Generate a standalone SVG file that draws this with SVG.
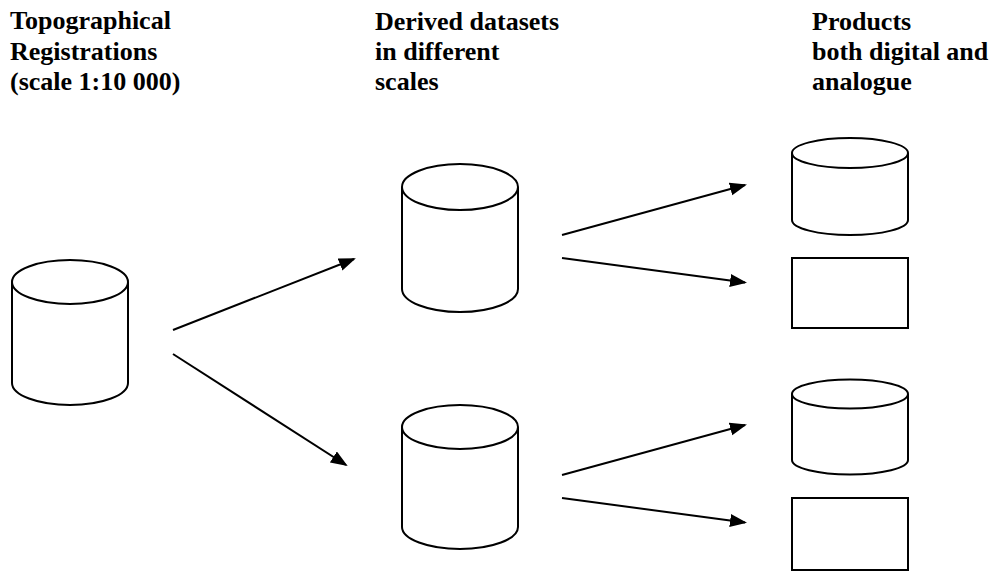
<svg xmlns="http://www.w3.org/2000/svg" width="996" height="572" viewBox="0 0 996 572">
<style>
.t{font-weight:bold;font-size:26px;fill:#000}
.s{fill:#fff;stroke:#000;stroke-width:2}
.c{fill:none;stroke:#000;stroke-width:2}
</style>
<defs>
<marker id="ah" markerUnits="userSpaceOnUse" markerWidth="18" markerHeight="14" refX="15" refY="6.5" orient="auto">
<path d="M0,0 L17,6.5 L0,13 z" fill="#000"/>
</marker>
</defs>
<rect width="996" height="572" fill="#fff"/>
<g id="headers" font-family="Liberation Serif, DejaVu Serif, serif">
<text class="t" x="10" y="29">Topographical</text>
<text class="t" x="10" y="60">Registrations</text>
<text class="t" x="10" y="90">(scale 1:10 000)</text>
<text class="t" x="375" y="30">Derived datasets</text>
<text class="t" x="375" y="60">in different</text>
<text class="t" x="375" y="90">scales</text>
<text class="t" x="812" y="30">Products</text>
<text class="t" x="812" y="60">both digital and</text>
<text class="t" x="812" y="90">analogue</text>
</g>
<g id="src">
<path class="s" d="M12,282 L12,383 A58,22 0 0 0 128,383 L128,282"/>
<ellipse class="s" cx="70" cy="282" rx="58" ry="22"/>
</g>
<g id="mid-top">
<path class="s" d="M402,187 L402,289 A58,23 0 0 0 518,289 L518,187"/>
<ellipse class="s" cx="460" cy="187" rx="58" ry="23"/>
</g>
<g id="mid-bottom">
<path class="s" d="M402,427 L402,527 A58,22 0 0 0 518,527 L518,427"/>
<ellipse class="s" cx="460" cy="427" rx="58" ry="22"/>
</g>
<g id="prod-top-db">
<path class="s" d="M792,153 L792,220 A58,15 0 0 0 908,220 L908,153"/>
<ellipse class="s" cx="850" cy="153" rx="58" ry="15"/>
</g>
<g id="prod-top-rect">
<rect class="s" x="792" y="258" width="116" height="70"/>
</g>
<g id="prod-bottom-db">
<path class="s" d="M792,394 L792,460 A58,14.5 0 0 0 908,460 L908,394"/>
<ellipse class="s" cx="850" cy="394" rx="58" ry="14.5"/>
</g>
<g id="prod-bottom-rect">
<rect class="s" x="792" y="498" width="116" height="72"/>
</g>
<g id="connectors">
<line class="c" x1="173" y1="330" x2="354" y2="259" marker-end="url(#ah)"/>
<line class="c" x1="173" y1="354" x2="346" y2="465" marker-end="url(#ah)"/>
<line class="c" x1="562" y1="235" x2="745" y2="185" marker-end="url(#ah)"/>
<line class="c" x1="562" y1="258" x2="745" y2="282.5" marker-end="url(#ah)"/>
<line class="c" x1="562" y1="475" x2="745" y2="425" marker-end="url(#ah)"/>
<line class="c" x1="562" y1="498" x2="745" y2="522.5" marker-end="url(#ah)"/>
</g>
</svg>
